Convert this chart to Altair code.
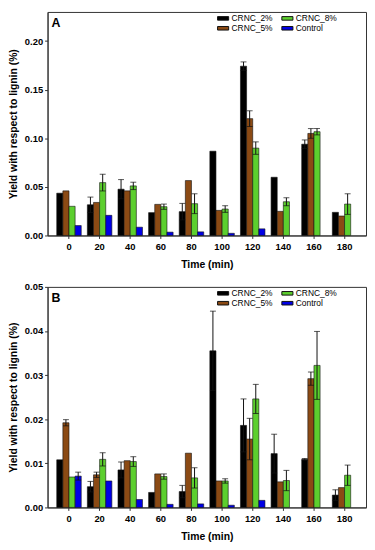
import altair as alt
import pandas as pd

times = [0, 20, 40, 60, 80, 100, 120, 140, 160, 180]
series = ["CRNC_2%", "CRNC_5%", "CRNC_8%", "Control"]
colors = ["#000000", "#8B4A14", "#5CCF2E", "#0000E6"]

# Panel A values
a_2 = [0.0435, 0.0316, 0.0476, 0.0235, 0.0245, 0.0867, 0.1742, 0.0599, 0.0939, 0.0238]
a_5 = [0.0459, 0.0340, 0.0459, 0.0320, 0.0565, 0.0258, 0.1202, 0.0248, 0.1050, 0.0200]
a_8 = [0.0300, 0.0544, 0.0510, 0.0296, 0.0327, 0.0272, 0.0899, 0.0347, 0.1068, 0.0323]
a_c = [0.0102, 0.0207, 0.0085, 0.0034, 0.0037, 0.0022, 0.0068, None, None, None]
a_2e = [None, 0.0079, 0.0099, None, 0.0085, None, 0.0044, None, 0.0044, None]
a_5e = [None, None, None, None, None, None, 0.0081, None, 0.0050, None]
a_8e = [None, 0.0086, 0.0038, 0.0027, 0.0102, 0.0034, 0.0064, 0.0041, 0.0033, 0.0106]
a_ce = [None, None, None, None, None, None, None, None, None, None]

# Panel B values
b_2 = [0.0108, 0.0047, 0.0085, 0.0034, 0.0036, 0.0355, 0.0186, 0.0122, 0.0109, 0.0028]
b_5 = [0.0192, 0.0074, 0.0106, 0.0076, 0.0123, 0.0060, 0.0155, 0.0058, 0.0292, 0.0045]
b_8 = [0.0069, 0.0109, 0.0104, 0.0070, 0.0067, 0.0060, 0.0246, 0.0061, 0.0322, 0.0073]
b_c = [0.0071, 0.0060, 0.0018, 0.0007, 0.0008, 0.0005, 0.0016, None, None, None]
b_2e = [None, 0.0012, 0.0018, None, 0.0014, 0.0090, 0.0060, 0.0044, 0.0002, 0.0012]
b_5e = [0.0007, 0.0006, None, None, None, None, 0.0047, None, 0.0015, None]
b_8e = [None, 0.0015, 0.0011, 0.0006, 0.0023, 0.0005, 0.0033, 0.0023, 0.0077, 0.0023]
b_ce = [0.0009, None, None, None, None, None, None, None, None, None]

y_title = "Yield with respect to lignin (%)"
x_title = "Time (min)"
FONT = "Liberation Sans"


def make_df(vals, errs):
    rows = []
    for s, v_list, e_list in zip(series, vals, errs):
        for t, v, e in zip(times, v_list, e_list):
            if v is None:
                continue
            rows.append({"time": t, "series": s, "value": v,
                         "lo": v - e if e is not None else None,
                         "hi": v + e if e is not None else None})
    return pd.DataFrame(rows)


def panel(letter, df, ymax, tick_step, height):
    ticks = [round(i * tick_step, 4) for i in range(int(round(ymax / tick_step)) + 1)
             if i * tick_step <= ymax + 1e-9]
    x = alt.X("time:O", title=x_title,
              scale=alt.Scale(paddingInner=0.2, paddingOuter=0.3),
              axis=alt.Axis(labelAngle=0, titleFontSize=10.5, titleFontWeight="bold",
                            labelFontSize=9.5, labelFontWeight="bold", tickSize=3,
                            labelPadding=3, titlePadding=9, domainColor="#333",
                            tickColor="#333"))
    xo = alt.XOffset("series:N", scale=alt.Scale(domain=series), sort=series)
    yscale = alt.Scale(domain=[0, ymax], nice=False, zero=True)
    yaxis = alt.Axis(values=ticks, format=".2f", titleFontSize=10.5, titleFontWeight="bold",
                     labelFontSize=9.5, labelFontWeight="bold", tickSize=3, labelPadding=2,
                     titlePadding=6, domainColor="#333", tickColor="#333")
    base = alt.Chart(df)
    bars = base.mark_bar(stroke="#111", strokeWidth=0.6).encode(
        x=x, xOffset=xo,
        y=alt.Y("value:Q", title=y_title, scale=yscale, axis=yaxis),
        color=alt.Color("series:N", scale=alt.Scale(domain=series, range=colors),
                        legend=alt.Legend(
                            title=None, orient="none", legendX=173, legendY=2,
                            columns=2,
                            symbolType="M-1.4,-0.45H1.4V0.45H-1.4Z", symbolSize=64,
                            symbolStrokeColor="#111", symbolStrokeWidth=1,
                            symbolOpacity=1, labelFont=FONT, labelFontSize=8.5,
                            labelOffset=4, columnPadding=6, rowPadding=1)),
    )
    ebase = base.transform_filter("datum.lo != null")
    rules = ebase.mark_rule(color="#111", strokeWidth=1).encode(
        x=x, xOffset=xo,
        y=alt.Y("lo:Q", title=y_title, scale=yscale), y2="hi:Q")
    cap_hi = ebase.mark_tick(color="#111", thickness=1, size=6).encode(
        x=x, xOffset=xo, y=alt.Y("hi:Q", title=y_title, scale=yscale))
    cap_lo = ebase.mark_tick(color="#111", thickness=1, size=6).encode(
        x=x, xOffset=xo, y=alt.Y("lo:Q", title=y_title, scale=yscale))
    label = alt.Chart(pd.DataFrame({"t": [letter]})).mark_text(
        font=FONT, fontSize=12.5, fontWeight="bold", align="left", baseline="top",
        color="#000").encode(text="t:N", x=alt.value(4), y=alt.value(5))
    return alt.layer(bars, rules, cap_hi, cap_lo, label).properties(width=322, height=height)


df_a = make_df([a_2, a_5, a_8, a_c], [a_2e, a_5e, a_8e, a_ce])
df_b = make_df([b_2, b_5, b_8, b_c], [b_2e, b_5e, b_8e, b_ce])

chart = alt.vconcat(
    panel("A", df_a, 0.23, 0.05, 226),
    panel("B", df_b, 0.05, 0.01, 223),
    spacing=10,
).resolve_scale(color="independent").properties(
    padding={"left": 0, "top": 0, "right": 0, "bottom": 0}
).configure(font=FONT).configure_view(stroke="#333", strokeWidth=1).configure_axis(grid=False)

chart.save("out.html", embed_options={"renderer": "svg", "actions": False})
